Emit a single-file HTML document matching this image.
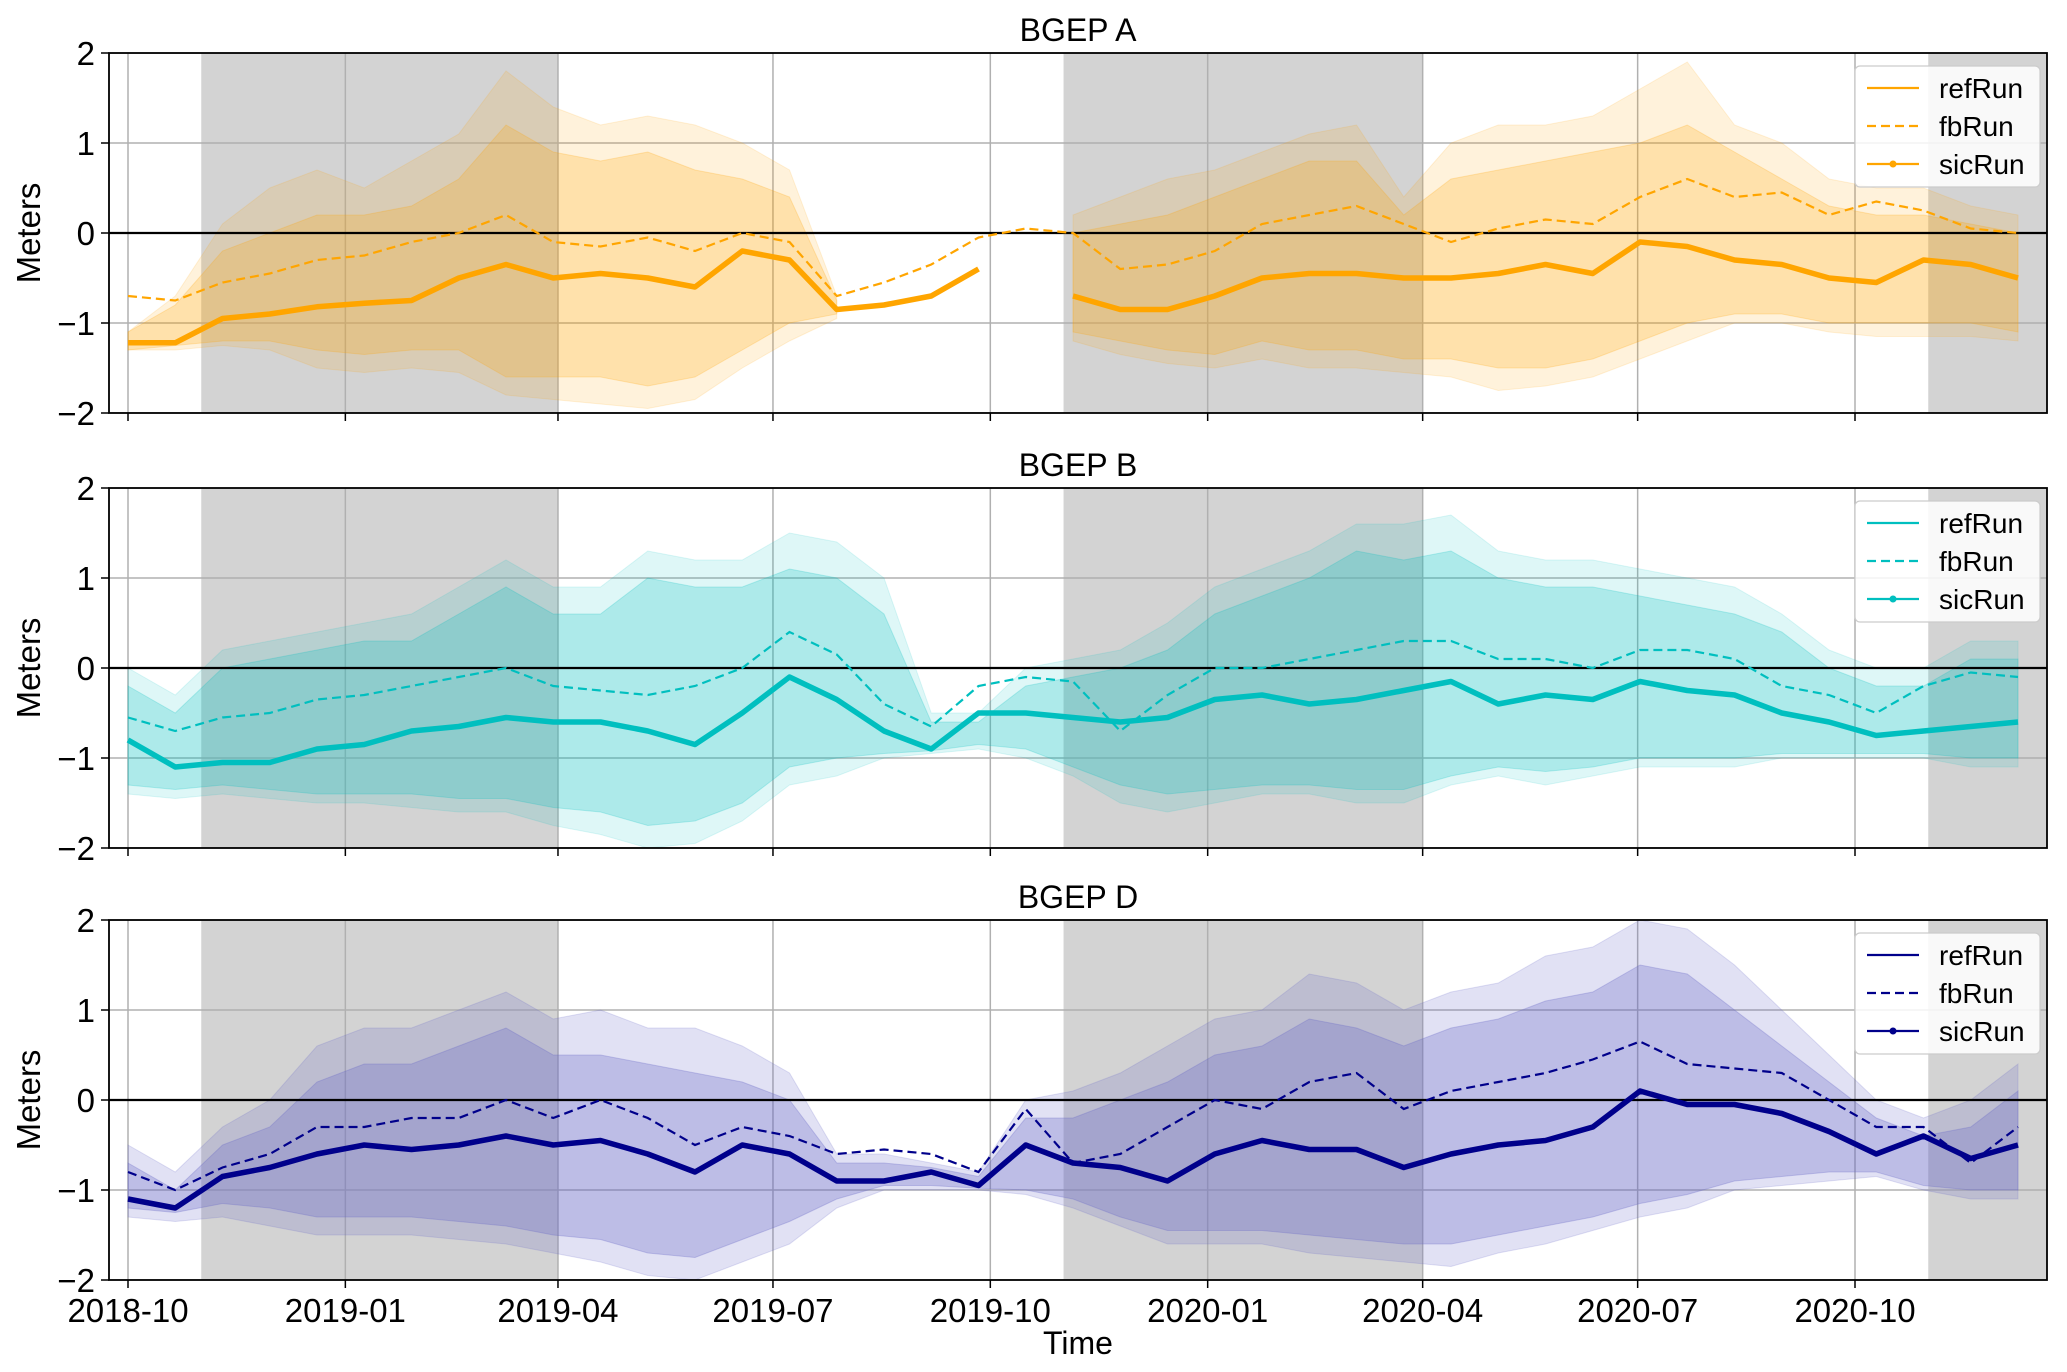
<!DOCTYPE html>
<html><head><meta charset="utf-8"><style>
html,body{margin:0;padding:0;background:#fff;}
svg{display:block;font-family:"Liberation Sans","DejaVu Sans",sans-serif;}
</style></head><body>
<svg id="chart" width="2067" height="1372" viewBox="0 0 2067 1372"></svg>
<script>
const days = [0,20,40,60,80,100,120,140,160,180,200,220,240,260,280,300,320,340,360,380,400,420,440,460,480,500,520,540,560,580,600,620,640,660,680,700,720,740,760,780,800];
const xTickLabels = ["2018-10","2019-01","2019-04","2019-07","2019-10","2020-01","2020-04","2020-07","2020-10"];
const xTickDays = [0,92,182,273,365,457,548,639,731];
const yTicks = [-2,-1,0,1,2];
const yTickLabels = ["\u22122","\u22121","0","1","2"];
const seasonStarts = [31,396,762];
const seasonEnds = [182,548,820];
const panelNames = ["BGEP A","BGEP B","BGEP D"];

const sicA = [-1.22,-1.22,-0.95,-0.9,-0.82,-0.78,-0.75,-0.5,-0.35,-0.5,-0.45,-0.5,-0.6,-0.2,-0.3,-0.85,-0.8,-0.7,-0.4,null,-0.7,-0.85,-0.85,-0.7,-0.5,-0.45,-0.45,-0.5,-0.5,-0.45,-0.35,-0.45,-0.1,-0.15,-0.3,-0.35,-0.5,-0.55,-0.3,-0.35,-0.5];
const fbA = [-0.7,-0.75,-0.55,-0.45,-0.3,-0.25,-0.1,0.0,0.2,-0.1,-0.15,-0.05,-0.2,0.0,-0.1,-0.7,-0.55,-0.35,-0.05,0.05,0.0,-0.4,-0.35,-0.2,0.1,0.2,0.3,0.1,-0.1,0.05,0.15,0.1,0.4,0.6,0.4,0.45,0.2,0.35,0.25,0.05,0.0];
const outLoA = [-1.3,-1.3,-1.25,-1.3,-1.5,-1.55,-1.5,-1.55,-1.8,-1.85,-1.9,-1.95,-1.85,-1.5,-1.2,-0.95,null,null,null,null,-1.2,-1.35,-1.45,-1.5,-1.4,-1.5,-1.5,-1.55,-1.6,-1.75,-1.7,-1.6,-1.4,-1.2,-1.0,-1.0,-1.1,-1.15,-1.15,-1.15,-1.2];
const outHiA = [-1.1,-0.7,0.1,0.5,0.7,0.5,0.8,1.1,1.8,1.4,1.2,1.3,1.2,1.0,0.7,-0.7,null,null,null,null,0.2,0.4,0.6,0.7,0.9,1.1,1.2,0.4,1.0,1.2,1.2,1.3,1.6,1.9,1.2,1.0,0.6,0.5,0.5,0.3,0.2];
const inLoA = [-1.3,-1.25,-1.2,-1.2,-1.3,-1.35,-1.3,-1.3,-1.6,-1.6,-1.6,-1.7,-1.6,-1.3,-1.0,-0.9,null,null,null,null,-1.1,-1.2,-1.3,-1.35,-1.2,-1.3,-1.3,-1.4,-1.4,-1.5,-1.5,-1.4,-1.2,-1.0,-0.9,-0.9,-1.0,-1.0,-1.0,-1.0,-1.1];
const inHiA = [-1.1,-0.8,-0.2,0.0,0.2,0.2,0.3,0.6,1.2,0.9,0.8,0.9,0.7,0.6,0.4,-0.75,null,null,null,null,0.0,0.1,0.2,0.4,0.6,0.8,0.8,0.2,0.6,0.7,0.8,0.9,1.0,1.2,0.9,0.6,0.3,0.2,0.2,0.1,0.0];

const sicB = [-0.8,-1.1,-1.05,-1.05,-0.9,-0.85,-0.7,-0.65,-0.55,-0.6,-0.6,-0.7,-0.85,-0.5,-0.1,-0.35,-0.7,-0.9,-0.5,-0.5,-0.55,-0.6,-0.55,-0.35,-0.3,-0.4,-0.35,-0.25,-0.15,-0.4,-0.3,-0.35,-0.15,-0.25,-0.3,-0.5,-0.6,-0.75,-0.7,-0.65,-0.6];
const fbB = [-0.55,-0.7,-0.55,-0.5,-0.35,-0.3,-0.2,-0.1,0.0,-0.2,-0.25,-0.3,-0.2,0.0,0.4,0.15,-0.4,-0.65,-0.2,-0.1,-0.15,-0.7,-0.3,0.0,0.0,0.1,0.2,0.3,0.3,0.1,0.1,0.0,0.2,0.2,0.1,-0.2,-0.3,-0.5,-0.2,-0.05,-0.1];
const outLoB = [-1.4,-1.45,-1.4,-1.45,-1.5,-1.5,-1.55,-1.6,-1.6,-1.75,-1.85,-2.0,-1.95,-1.7,-1.3,-1.2,-1.0,-0.95,-0.9,-1.0,-1.2,-1.5,-1.6,-1.5,-1.4,-1.4,-1.5,-1.5,-1.3,-1.2,-1.3,-1.2,-1.1,-1.1,-1.1,-1.0,-1.0,-1.0,-1.0,-1.1,-1.1];
const outHiB = [0.0,-0.3,0.2,0.3,0.4,0.5,0.6,0.9,1.2,0.9,0.9,1.3,1.2,1.2,1.5,1.4,1.0,-0.5,-0.5,0.0,0.1,0.2,0.5,0.9,1.1,1.3,1.6,1.6,1.7,1.3,1.2,1.2,1.1,1.0,0.9,0.6,0.2,0.0,0.0,0.3,0.3];
const inLoB = [-1.3,-1.35,-1.3,-1.35,-1.4,-1.4,-1.4,-1.45,-1.45,-1.55,-1.6,-1.75,-1.7,-1.5,-1.1,-1.0,-0.95,-0.92,-0.85,-0.9,-1.1,-1.3,-1.4,-1.35,-1.3,-1.3,-1.35,-1.35,-1.2,-1.1,-1.15,-1.1,-1.0,-1.0,-1.0,-0.95,-0.95,-0.95,-0.95,-1.0,-1.0];
const inHiB = [-0.2,-0.5,0.0,0.1,0.2,0.3,0.3,0.6,0.9,0.6,0.6,1.0,0.9,0.9,1.1,1.0,0.6,-0.6,-0.6,-0.2,-0.1,0.0,0.2,0.6,0.8,1.0,1.3,1.2,1.3,1.0,0.9,0.9,0.8,0.7,0.6,0.4,0.0,-0.2,-0.2,0.1,0.1];

const sicD = [-1.1,-1.2,-0.85,-0.75,-0.6,-0.5,-0.55,-0.5,-0.4,-0.5,-0.45,-0.6,-0.8,-0.5,-0.6,-0.9,-0.9,-0.8,-0.95,-0.5,-0.7,-0.75,-0.9,-0.6,-0.45,-0.55,-0.55,-0.75,-0.6,-0.5,-0.45,-0.3,0.1,-0.05,-0.05,-0.15,-0.35,-0.6,-0.4,-0.65,-0.5];
const fbD = [-0.8,-1.0,-0.75,-0.6,-0.3,-0.3,-0.2,-0.2,0.0,-0.2,0.0,-0.2,-0.5,-0.3,-0.4,-0.6,-0.55,-0.6,-0.8,-0.1,-0.7,-0.6,-0.3,0.0,-0.1,0.2,0.3,-0.1,0.1,0.2,0.3,0.45,0.65,0.4,0.35,0.3,0.0,-0.3,-0.3,-0.7,-0.3];
const outLoD = [-1.3,-1.35,-1.3,-1.4,-1.5,-1.5,-1.5,-1.55,-1.6,-1.7,-1.8,-1.95,-2.0,-1.8,-1.6,-1.2,-1.0,-1.0,-1.0,-1.05,-1.2,-1.4,-1.6,-1.6,-1.6,-1.7,-1.75,-1.8,-1.85,-1.7,-1.6,-1.45,-1.3,-1.2,-1.0,-0.95,-0.9,-0.85,-1.0,-1.1,-1.1];
const outHiD = [-0.5,-0.8,-0.3,0.0,0.6,0.8,0.8,1.0,1.2,0.9,1.0,0.8,0.8,0.6,0.3,-0.6,-0.6,-0.7,-0.8,0.0,0.1,0.3,0.6,0.9,1.0,1.4,1.3,1.0,1.2,1.3,1.6,1.7,2.0,1.9,1.5,1.0,0.5,0.0,-0.2,0.0,0.4];
const inLoD = [-1.2,-1.25,-1.15,-1.2,-1.3,-1.3,-1.3,-1.35,-1.4,-1.5,-1.55,-1.7,-1.75,-1.55,-1.35,-1.1,-0.95,-0.95,-0.98,-1.0,-1.1,-1.3,-1.45,-1.45,-1.45,-1.5,-1.55,-1.6,-1.6,-1.5,-1.4,-1.3,-1.15,-1.05,-0.9,-0.85,-0.8,-0.8,-0.95,-1.0,-1.0];
const inHiD = [-0.7,-1.0,-0.5,-0.3,0.2,0.4,0.4,0.6,0.8,0.5,0.5,0.4,0.3,0.2,0.0,-0.7,-0.7,-0.75,-0.85,-0.2,-0.2,0.0,0.2,0.5,0.6,0.9,0.8,0.6,0.8,0.9,1.1,1.2,1.5,1.4,1.0,0.6,0.2,-0.2,-0.4,-0.3,0.1];

const NS = "http://www.w3.org/2000/svg";
const svg = document.getElementById("chart");
const X0 = 109, X1 = 2047;
const panelTops = [53, 488, 920];
const PH = 360;
function xS(d){ return 128 + (d/731)*(1855-128); }
function mk(tag, attrs, parent){
  const e = document.createElementNS(NS, tag);
  for (const k in attrs) e.setAttribute(k, attrs[k]);
  (parent||svg).appendChild(e);
  return e;
}
function segs(lo, hi){
  const out=[]; let cur=[];
  for (let i=0;i<days.length;i++){
    const ok = (lo===null||lo[i]!==null) && (hi===null||hi[i]!==null);
    if (ok) cur.push(i); else { if(cur.length) out.push(cur); cur=[]; }
  }
  if (cur.length) out.push(cur);
  return out;
}
const panels = [
  {color:"#ffa500", band:"#ffa500", sic:sicA, fb:fbA, oL:outLoA, oH:outHiA, iL:inLoA, iH:inHiA, oa:0.14, ia:0.22},
  {color:"#00bfbf", band:"#00c0c0", sic:sicB, fb:fbB, oL:outLoB, oH:outHiB, iL:inLoB, iH:inHiB, oa:0.13, ia:0.22},
  {color:"#00008b", band:"#6a6ac8", sic:sicD, fb:fbD, oL:outLoD, oH:outHiD, iL:inLoD, iH:inHiD, oa:0.2, ia:0.3}
];
panels.forEach((p, pi) => {
  const top = panelTops[pi], bot = top+PH;
  const yS = v => top + (2 - v)/4*PH;
  const g = mk("g", {});
  
  
  const defs = mk("clipPath", {id:"clip"+pi}, g);
  mk("rect", {x:X0, y:top, width:X1-X0, height:PH}, defs);
  const inner = mk("g", {"clip-path":"url(#clip"+pi+")"}, g);
  for (let s=0;s<seasonStarts.length;s++){
    const r = mk("rect", {x:xS(seasonStarts[s]), y:top, width:xS(seasonEnds[s])-xS(seasonStarts[s]), height:PH, fill:"#d3d3d3"}, inner);
    
    
  }
  xTickDays.forEach(d => mk("line", {x1:xS(d), x2:xS(d), y1:top, y2:bot, stroke:"#b0b0b0", "stroke-width":1.5}, inner));
  yTicks.forEach(v => mk("line", {x1:X0, x2:X1, y1:yS(v), y2:yS(v), stroke:"#b0b0b0", "stroke-width":1.5}, inner));
  [[p.oL,p.oH,p.oa,'outer-band'],[p.iL,p.iH,p.ia,'inner-band']].forEach(([lo,hi,a,nm]) => {
    segs(lo,hi).forEach(idx => {
      let pts = idx.map(i => xS(days[i])+","+yS(hi[i]));
      pts = pts.concat(idx.slice().reverse().map(i => xS(days[i])+","+yS(lo[i])));
      const poly = mk("polygon", {points:pts.join(" "), fill:p.band, "fill-opacity":a, stroke:p.band, "stroke-opacity":a, "stroke-width":1}, inner);
      
      
    });
  });
  mk("line", {x1:X0, x2:X1, y1:yS(0), y2:yS(0), stroke:"#000", "stroke-width":2.2}, inner);
  segs(p.fb, null).forEach(idx => {
    const l = mk("polyline", {points:idx.map(i=>xS(days[i])+","+yS(p.fb[i])).join(" "), fill:"none", stroke:p.color, "stroke-width":2.2, "stroke-dasharray":"9,5"}, inner);
    
    
  });
  segs(p.sic, null).forEach(idx => {
    const l = mk("polyline", {points:idx.map(i=>xS(days[i])+","+yS(p.sic[i])).join(" "), fill:"none", stroke:p.color, "stroke-width":5.5, "stroke-linejoin":"round"}, inner);
    
    
  });
  mk("rect", {x:X0, y:top, width:X1-X0, height:PH, fill:"none", stroke:"#000", "stroke-width":1.8}, g);
  yTicks.forEach((v,i) => {
    mk("line", {x1:X0-8, x2:X0, y1:yS(v), y2:yS(v), stroke:"#000", "stroke-width":1.5}, g);
    const t = mk("text", {x:X0-14, y:yS(v)+12, "text-anchor":"end", "font-size":33, fill:"#000"}, g);
    t.textContent = yTickLabels[i];
    
    
  });
  xTickDays.forEach((d,i) => {
    mk("line", {x1:xS(d), x2:xS(d), y1:bot, y2:bot+8, stroke:"#000", "stroke-width":1.5}, g);
    if (pi===2){
      const t = mk("text", {x:xS(d), y:bot+42, "text-anchor":"middle", "font-size":33, fill:"#000"}, g);
      t.textContent = xTickLabels[i];
      
      
    }
  });
  const yt = mk("text", {x:0, y:0, transform:"translate(40,"+(top+PH/2)+") rotate(-90)", "text-anchor":"middle", "font-size":33, fill:"#000"}, g);
  yt.textContent = "Meters";
  
  
  const tt = mk("text", {x:(X0+X1)/2, y:top-12, "text-anchor":"middle", "font-size":32, fill:"#000"}, g);
  tt.textContent = panelNames[pi];
  
  
  const lg = mk("g", {}, g);
  
  
  const lx = 1855, ly = top+13;
  mk("rect", {x:lx, y:ly, width:185, height:121, rx:5, fill:"#fff", "fill-opacity":0.85, stroke:"#ccc", "stroke-width":1.2}, lg);
  ["refRun","fbRun","sicRun"].forEach((nm,k) => {
    const yy = ly+22+k*38;
    const attrs = {x1:lx+12, x2:lx+64, y1:yy, y2:yy, stroke:p.color, "stroke-width":2.2};
    if (k===1) attrs["stroke-dasharray"]="9,5";
    mk("line", attrs, lg);
    if (k===2) mk("circle", {cx:lx+38, cy:yy, r:3.5, fill:p.color}, lg);
    const t = mk("text", {x:lx+84, y:yy+10, "font-size":28, fill:"#000"}, lg);
    t.textContent = nm;
    
    
  });
});
const xt = mk("text", {x:(X0+X1)/2, y:1354, "text-anchor":"middle", "font-size":32, fill:"#000"});
xt.textContent = "Time";


</script>
</body></html>
